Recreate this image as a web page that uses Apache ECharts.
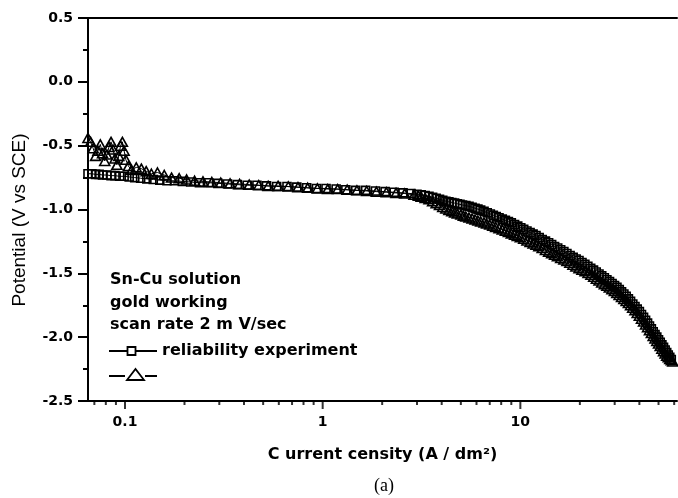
<!DOCTYPE html>
<html>
<head>
<meta charset="utf-8">
<script src="https://cdn.jsdelivr.net/npm/echarts@6/dist/echarts.min.js"></script>
<style>
  html, body { margin: 0; padding: 0; background: #fff; }
  #chart { width: 678px; height: 498px; }
</style>
</head>
<body>
<div id="chart"></div>
<script>
// Polarization curves: potential vs current density (log scale)
const squaresX = [0.065,0.068,0.071,0.074,0.077,0.081,0.085,0.089,0.094,0.099,0.105,0.112,0.12,0.129,0.139,0.15,0.163,0.178,0.195,0.215,0.238,0.265,0.295,0.33,0.37,0.415,0.465,0.52,0.585,0.66,0.74,0.83,0.93,1.04,1.17,1.31,1.47,1.65,1.85,2.07,2.3,2.55,2.8,
  3.0,3.15,3.3,3.45,3.6,3.75,3.9,4.05,4.2,4.35,4.5,4.65,4.8,4.95,5.1,5.3,5.5,5.7,5.9,6.1,6.3,6.55,6.8,7.05,7.3,7.55,7.8,8.1,8.4,8.7,9.0,9.35,9.7,10.05,10.4,10.8,11.2,11.6,12.0,12.45,12.9,13.4,13.9,14.4,14.9,15.45,16.0,16.6,17.2,17.85,18.5,19.15,19.8,20.5,21.2,21.95,22.7,23.45,24.2,25.0,25.8,26.6,27.4,28.25,29.1,29.95,30.8,31.65,32.5,33.4,34.3,35.2,36.1,37.05,38.0,39.0,40.0,41.0,42.0,43.0,44.0,45.0,46.0,47.0,48.0,49.0,50.0,51.0,52.0,53.0,54.0,55.0,56.0,57.0,58.0];
const squaresY = [-0.72,-0.72,-0.725,-0.725,-0.73,-0.73,-0.735,-0.735,-0.74,-0.74,-0.745,-0.75,-0.755,-0.76,-0.765,-0.77,-0.775,-0.775,-0.78,-0.785,-0.79,-0.79,-0.795,-0.80,-0.805,-0.81,-0.81,-0.815,-0.82,-0.82,-0.825,-0.83,-0.835,-0.835,-0.84,-0.845,-0.85,-0.85,-0.855,-0.86,-0.865,-0.87,-0.875,
  -0.88,-0.885,-0.89,-0.897,-0.905,-0.912,-0.92,-0.928,-0.935,-0.94,-0.945,-0.95,-0.955,-0.96,-0.965,-0.97,-0.975,-0.982,-0.99,-0.997,-1.005,-1.015,-1.025,-1.035,-1.045,-1.055,-1.065,-1.075,-1.085,-1.095,-1.105,-1.118,-1.13,-1.143,-1.155,-1.168,-1.18,-1.193,-1.205,-1.22,-1.235,-1.248,-1.26,-1.275,-1.29,-1.302,-1.315,-1.33,-1.345,-1.36,-1.375,-1.388,-1.40,-1.415,-1.43,-1.445,-1.46,-1.475,-1.49,-1.505,-1.52,-1.535,-1.55,-1.565,-1.58,-1.595,-1.61,-1.628,-1.645,-1.662,-1.68,-1.70,-1.72,-1.74,-1.76,-1.78,-1.80,-1.822,-1.845,-1.868,-1.89,-1.912,-1.935,-1.958,-1.98,-2.0,-2.02,-2.04,-2.06,-2.08,-2.10,-2.12,-2.14,-2.158,-2.175];

const trianglesX = [0.065,0.067,0.069,0.071,0.073,0.075,0.077,0.079,0.081,0.083,0.085,0.087,0.089,0.091,0.093,0.095,0.097,0.099,0.101,0.104,0.108,0.114,0.121,0.128,0.136,0.146,0.158,0.172,0.188,0.205,0.225,0.248,0.275,0.305,0.34,0.38,0.425,0.475,0.53,0.595,0.67,0.75,0.84,0.94,1.06,1.19,1.33,1.49,1.67,1.87,2.1,2.35,2.6,
  2.9,3.05,3.15,3.3,3.45,3.6,3.75,3.9,4.05,4.2,4.35,4.5,4.65,4.8,5.0,5.15,5.3,5.5,5.7,5.9,6.1,6.3,6.55,6.75,7.0,7.25,7.5,7.8,8.1,8.4,8.7,9.0,9.35,9.65,10.0,10.4,10.8,11.2,11.6,12.0,12.4,12.9,13.4,13.9,14.4,14.9,15.4,16.0,16.6,17.2,17.8,18.45,19.1,19.8,20.5,21.25,22.0,22.75,23.5,24.25,25.0,25.8,26.6,27.4,28.2,29.05,29.9,30.75,31.6,32.5,33.4,34.3,35.2,36.1,37.0,38.0,39.0,40.0,41.0,42.0,43.0,44.0,45.0,46.0,47.0,48.0,49.0,50.0,51.0,52.0,53.0,54.0,55.0,56.0,57.0,58.0,59.0];
const trianglesY = [-0.44,-0.47,-0.52,-0.58,-0.54,-0.49,-0.56,-0.62,-0.57,-0.51,-0.47,-0.53,-0.60,-0.65,-0.58,-0.50,-0.47,-0.54,-0.61,-0.66,-0.69,-0.67,-0.68,-0.70,-0.72,-0.71,-0.73,-0.75,-0.755,-0.765,-0.775,-0.78,-0.785,-0.79,-0.795,-0.80,-0.805,-0.81,-0.815,-0.815,-0.82,-0.825,-0.83,-0.835,-0.84,-0.84,-0.845,-0.85,-0.855,-0.86,-0.865,-0.87,-0.875,
  -0.885,-0.893,-0.90,-0.91,-0.92,-0.935,-0.95,-0.965,-0.98,-0.992,-1.003,-1.013,-1.023,-1.032,-1.04,-1.048,-1.055,-1.063,-1.07,-1.078,-1.086,-1.094,-1.102,-1.11,-1.118,-1.127,-1.137,-1.147,-1.157,-1.167,-1.177,-1.187,-1.197,-1.207,-1.217,-1.23,-1.242,-1.254,-1.267,-1.277,-1.287,-1.302,-1.317,-1.33,-1.342,-1.354,-1.367,-1.38,-1.392,-1.404,-1.417,-1.432,-1.447,-1.46,-1.472,-1.484,-1.497,-1.512,-1.527,-1.542,-1.557,-1.571,-1.585,-1.598,-1.611,-1.624,-1.638,-1.653,-1.669,-1.685,-1.701,-1.716,-1.733,-1.75,-1.77,-1.79,-1.81,-1.832,-1.855,-1.878,-1.90,-1.922,-1.945,-1.968,-1.99,-2.01,-2.03,-2.05,-2.07,-2.09,-2.11,-2.128,-2.145,-2.158,-2.17,-2.18,-2.19];

// Tick positions along the log axis
const xMajorTicks = [0.1, 1, 10];
const xMinorTicks = [0.07,0.08,0.09,0.2,0.3,0.4,0.5,0.6,0.7,0.8,0.9,2,3,4,5,6,7,8,9,20,30,40,50,60];

const notes = ['Sn-Cu solution', 'gold working', 'scan rate 2 m V/sec'];
const legendLabel = 'reliability experiment';
const yTitle = 'Potential (V vs SCE)';

const pair = (xs, ys) => xs.map((x, i) => [x, ys[i]]);
const boldFont = '"DejaVu Sans", sans-serif';

const chart = echarts.init(document.getElementById('chart'), null, { renderer: 'canvas' });

const markerStyle = {
  color: 'rgba(255,255,255,0)',
  borderColor: '#000',
  borderWidth: 1.6
};

const option = {
  backgroundColor: '#fff',
  animation: false,
  grid: { left: 88, right: 1, top: 18, bottom: 97 },
  xAxis: [{
    type: 'log',
    logBase: 10,
    min: 0.065,
    max: 62,
    name: 'C urrent censity (A / dm²)',
    nameLocation: 'middle',
    nameGap: 46,
    nameTextStyle: { color: '#000', fontFamily: boldFont, fontWeight: 'bold', fontSize: 16 },
    axisLine: { show: true, onZero: false, lineStyle: { color: '#000', width: 2 } },
    axisTick: { show: false },
    splitLine: { show: false },
    axisLabel: {
      color: '#000', fontFamily: boldFont, fontWeight: 'bold', fontSize: 14,
      margin: 14, showMinLabel: false, showMaxLabel: false,
      formatter: v => String(+(+v).toPrecision(3))
    }
  }, {
    type: 'value',
    position: 'top',
    min: 0, max: 1,
    axisLine: { show: true, onZero: false, lineStyle: { color: '#000', width: 2 } },
    axisTick: { show: false },
    axisLabel: { show: false },
    splitLine: { show: false }
  }],
  yAxis: {
    type: 'value',
    min: -2.5,
    max: 0.5,
    interval: 0.5,
    axisLine: { show: true, onZero: false, lineStyle: { color: '#000', width: 2 } },
    axisTick: { show: true, length: 10, lineStyle: { color: '#000', width: 2 } },
    minorTick: { show: true, splitNumber: 2, length: 5, lineStyle: { color: '#000', width: 2 } },
    splitLine: { show: false },
    axisLabel: {
      color: '#000', fontFamily: boldFont, fontWeight: 'bold', fontSize: 14, margin: 15,
      formatter: v => v.toFixed(1)
    }
  },
  series: [
    {
      type: 'line',
      data: pair(squaresX, squaresY),
      symbol: 'rect',
      symbolSize: 8,
      showAllSymbol: true,
      lineStyle: { color: '#000', width: 1 },
      itemStyle: markerStyle,
      z: 3
    },
    {
      type: 'line',
      data: pair(trianglesX, trianglesY),
      symbol: 'triangle',
      symbolSize: [10, 9],
      showAllSymbol: true,
      lineStyle: { color: '#000', width: 1 },
      itemStyle: markerStyle,
      z: 4
    },
    {
      type: 'scatter',
      data: xMinorTicks.map(v => [v, -2.5]),
      symbol: 'rect',
      symbolSize: [2, 4],
      symbolOffset: [0, 2],
      itemStyle: { color: '#000' },
      clip: false,
      silent: true,
      z: 5
    },
    {
      type: 'scatter',
      data: xMajorTicks.map(v => [v, -2.5]),
      symbol: 'rect',
      symbolSize: [2, 8],
      symbolOffset: [0, 4],
      itemStyle: { color: '#000' },
      clip: false,
      silent: true,
      z: 5
    }
  ],
  graphic: [
    {
      type: 'text', x: 20, y: 220, rotation: Math.PI / 2,
      style: { text: yTitle, fill: '#000', font: '19px "Liberation Sans", Arial, sans-serif', align: 'center', verticalAlign: 'middle' }
    },
    ...notes.map((t, i) => ({
      type: 'text', left: 110, top: 272 + i * 22.5,
      style: { text: t, fill: '#000', font: 'bold 16px ' + boldFont }
    })),
    {
      type: 'text', left: 162, top: 343,
      style: { text: legendLabel, fill: '#000', font: 'bold 16px ' + boldFont }
    },
    { type: 'line', shape: { x1: 109, y1: 351, x2: 127, y2: 351 }, style: { stroke: '#000', lineWidth: 2 } },
    { type: 'rect', shape: { x: 127.5, y: 347, width: 8, height: 8 }, style: { stroke: '#000', fill: '#fff', lineWidth: 1.8 } },
    { type: 'line', shape: { x1: 136, y1: 351, x2: 157, y2: 351 }, style: { stroke: '#000', lineWidth: 2 } },
    { type: 'line', shape: { x1: 109, y1: 376, x2: 125, y2: 376 }, style: { stroke: '#000', lineWidth: 2 } },
    { type: 'polygon', shape: { points: [[127, 380], [135.5, 369], [144, 380]] }, style: { stroke: '#000', fill: '#fff', lineWidth: 1.8 } },
    { type: 'line', shape: { x1: 145, y1: 376, x2: 157, y2: 376 }, style: { stroke: '#000', lineWidth: 2 } },
    {
      type: 'text', left: 374, top: 477,
      style: { text: '(a)', fill: '#000', font: '18px "Liberation Serif", "Times New Roman", serif' }
    }
  ]
};

chart.setOption(option);
</script>
</body>
</html>
